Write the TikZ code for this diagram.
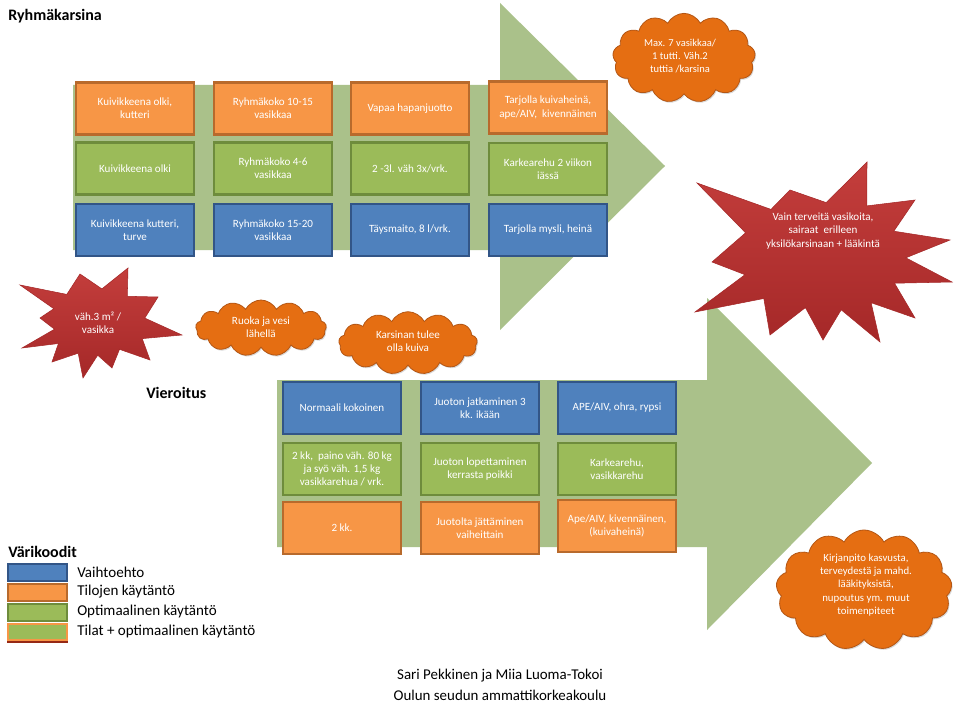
\documentclass[tikz,border=0pt]{standalone}
\usepackage{fontspec}
\setmainfont{Carlito}
\usetikzlibrary{shapes.symbols,shadows}
\definecolor{arrowgreen}{RGB}{170,193,138}
\definecolor{bOr}{RGB}{247,150,70}
\definecolor{bOrD}{RGB}{184,106,44}
\definecolor{bGr}{RGB}{155,187,89}
\definecolor{bGrD}{RGB}{110,140,60}
\definecolor{bBl}{RGB}{79,129,189}
\definecolor{bBlD}{RGB}{50,85,135}
\definecolor{clOr}{RGB}{229,110,18}
\definecolor{clOrD}{RGB}{180,86,20}
\definecolor{stRed}{RGB}{196,62,60}
\definecolor{stRedD}{RGB}{165,40,40}
\definecolor{legRed}{RGB}{150,40,20}
\tikzset{
  bx/.style={rectangle, minimum width=88.5pt, minimum height=39pt, line width=1.6pt,
    text=white, font=\fontsize{8.3}{10}\selectfont, align=center, inner sep=1pt,
    drop shadow={opacity=0.3, shadow xshift=0.8pt, shadow yshift=-1pt}},
  obx/.style={bx, fill=bOr, draw=bOrD},
  gbx/.style={bx, fill=bGr, draw=bGrD},
  bbx/.style={bx, fill=bBl, draw=bBlD},
  bigarrow/.style={fill=arrowgreen, draw=none},
  cloudsh/.style={cloud, cloud puffs=13, cloud puff arc=125, cloud ignores aspect,
    fill=clOr, draw=clOrD, line width=0.6pt, inner sep=0pt,
    drop shadow={opacity=0.3, shadow xshift=0.8pt, shadow yshift=-1pt}},
  wtext/.style={text=white, font=\fontsize{8.3}{9.8}\selectfont, align=center, inner sep=0pt},
  starsh/.style={top color=stRed, bottom color=stRedD, draw=stRedD, line width=0.4pt},
  title/.style={anchor=west, font=\fontsize{12}{14}\selectfont\bfseries, inner sep=0pt},
  legtext/.style={anchor=west, font=\fontsize{11.3}{13}\selectfont, inner sep=0pt},
  foot/.style={font=\fontsize{11.2}{14.5}\selectfont, align=center, inner sep=0pt},
}
\begin{document}
\begin{tikzpicture}[x=0.75pt,y=-0.75pt]
\useasboundingbox (0,0) rectangle (956,713);
\fill[white] (0,0) rectangle (956,713);

% ---------- top arrow ----------
\fill[bigarrow] (73,85) -- (500,85) -- (500,3) -- (665,166) -- (500,330) -- (500,250) -- (73,250) -- cycle;

\node[title] (t1) at (8,16) {Ryhmäkarsina};

\node[obx] (a11) at (135,108.5) {Kuivikkeena olki,\\kutteri};
\node[gbx] (a21) at (135,168.5) {Kuivikkeena olki};
\node[bbx] (a31) at (135,230) {Kuivikkeena kutteri,\\turve};

\node[obx] (a12) at (273,108.5) {Ryhmäkoko 10-15\\vasikkaa};
\node[gbx] (a22) at (273,168.5) {Ryhmäkoko 4-6\\vasikkaa};
\node[bbx] (a32) at (273,230) {Ryhmäkoko 15-20\\vasikkaa};

\node[obx] (a13) at (410,108.5) {Vapaa hapanjuotto};
\node[gbx] (a23) at (410,168.5) {2 -3l. väh 3x/vrk.};
\node[bbx] (a33) at (410,230) {Täysmaito, 8 l/vrk.};

\node[obx] (a14) at (548,107.5) {Tarjolla kuivaheinä,\\ape/AIV,\ \ kivennäinen};
\node[gbx] (a24) at (548,169) {Karkearehu 2 viikon\\iässä};
\node[bbx] (a34) at (548,230) {Tarjolla mysli, heinä};

% ---------- bottom arrow ----------
\fill[bigarrow] (277,380) -- (707,380) -- (707,298) -- (872,463) -- (707,630) -- (707,547) -- (277,547) -- cycle;

\node[title] (t2) at (146,393) {Vieroitus};

\node[bbx] (b11) at (342,408) {Normaali kokoinen};
\node[gbx] (b21) at (342,469) {2 kk,\ \ paino väh. 80 kg\\ja syö väh. 1,5 kg\\vasikkarehua / vrk.};
\node[obx] (b31) at (342,528) {2 kk.};

\node[bbx] (b12) at (480,408) {Juoton jatkaminen 3\\kk. ikään};
\node[gbx] (b22) at (480,469) {Juoton lopettaminen\\kerrasta poikki};
\node[obx] (b32) at (480,528) {Juotolta jättäminen\\vaiheittain};

\node[bbx] (b13) at (617,408) {APE/AIV, ohra, rypsi};
\node[gbx] (b23) at (617,469) {Karkearehu,\\vasikkarehu};
\node[obx] (b33) at (617,526) {Ape/AIV, kivennäinen,\\(kuivaheinä)};

% ---------- clouds ----------
\node[cloudsh, minimum width=107pt, minimum height=67pt] (c1) at (684,58) {};
\node[wtext, font=\fontsize{7.9}{9.6}\selectfont] (c1t) at (680,56) {Max. 7 vasikkaa/\\1 tutti. Väh.2\\tuttia /karsina};

\node[cloudsh, minimum width=98pt, minimum height=42pt] (c2) at (261,328) {};
\node[wtext] (c2t) at (261,327) {Ruoka ja vesi\\lähellä};

\node[cloudsh, minimum width=104pt, minimum height=47pt] (c3) at (408,343) {};
\node[wtext] (c3t) at (408,341) {Karsinan tulee\\olla kuiva};

\node[cloudsh, minimum width=132pt, minimum height=90pt] (c4) at (864,590) {};
\node[wtext, font=\fontsize{8.1}{10}\selectfont] (c4t) at (866,585) {Kirjanpito kasvusta,\\terveydestä ja mahd.\\lääkityksistä,\\nupoutus ym. muut\\toimenpiteet};

% ---------- stars ----------
\draw[starsh] (697,183) -- (771,209.4) -- (790,190) -- (826.2,202.6) -- (867,162) -- (866.8,205.9)
  -- (915,200) -- (893.8,231.2) -- (950,240) -- (905.8,257.8) -- (952,282) -- (894.5,283.2)
  -- (915,318) -- (871.1,302.7) -- (880,342) -- (841.2,309.8) -- (823,340) -- (805.4,307.6)
  -- (770,335) -- (763.8,298.5) -- (695,312) -- (745,274.7) -- (712,262) -- (745.6,232.8) -- cycle;
\node[wtext] (s1t) at (823,231) {Vain terveitä vasikoita,\\sairaat\ \ erilleen\\yksilökarsinaan + lääkintä};

\draw[starsh] (20,285) -- (66.8,294.4) -- (80,274) -- (101.9,288.9) -- (128,268) -- (127.3,296.3)
  -- (158,297) -- (144.8,318.1) -- (182,335) -- (142.2,338.6) -- (150,360) -- (119.5,349.3)
  -- (112,368) -- (97.7,355.2) -- (83,378) -- (78.2,353.2) -- (52,362) -- (58.4,343.5)
  -- (22,348) -- (54.5,329.2) -- (40,318) -- (53.8,308.7) -- cycle;
\node[wtext] (s2t) at (98,323) {väh.3 m² /\\vasikka};

% ---------- legend ----------
\node[title] (lt) at (8,552) {Värikoodit};
\draw[fill=bBl, draw=bBlD, line width=1.2pt] (8,564) rectangle (67,581);
\draw[fill=bOr, draw=bOrD, line width=1.2pt] (8,584) rectangle (67,601);
\draw[fill=bGr, draw=bGrD, line width=1.2pt] (8,604) rectangle (67,621);
\draw[fill=bGr, draw=bOr, line width=1.5pt] (8,624) rectangle (67,640);
\draw[legRed, line width=1.5pt] (7,641.5) -- (68,641.5);
\node[legtext] (l1) at (77,572) {Vaihtoehto};
\node[legtext] (l2) at (77,592) {Tilojen käytäntö};
\node[legtext] (l3) at (77,611.5) {Optimaalinen käytäntö};
\node[legtext] (l4) at (77,631.5) {Tilat + optimaalinen käytäntö};

% ---------- footer ----------
\node[foot] (f1) at (500,676) {Sari Pekkinen ja Miia Luoma-Tokoi};
\node[foot] (f2) at (500,695) {Oulun seudun ammattikorkeakoulu};
\end{tikzpicture}
\end{document}
